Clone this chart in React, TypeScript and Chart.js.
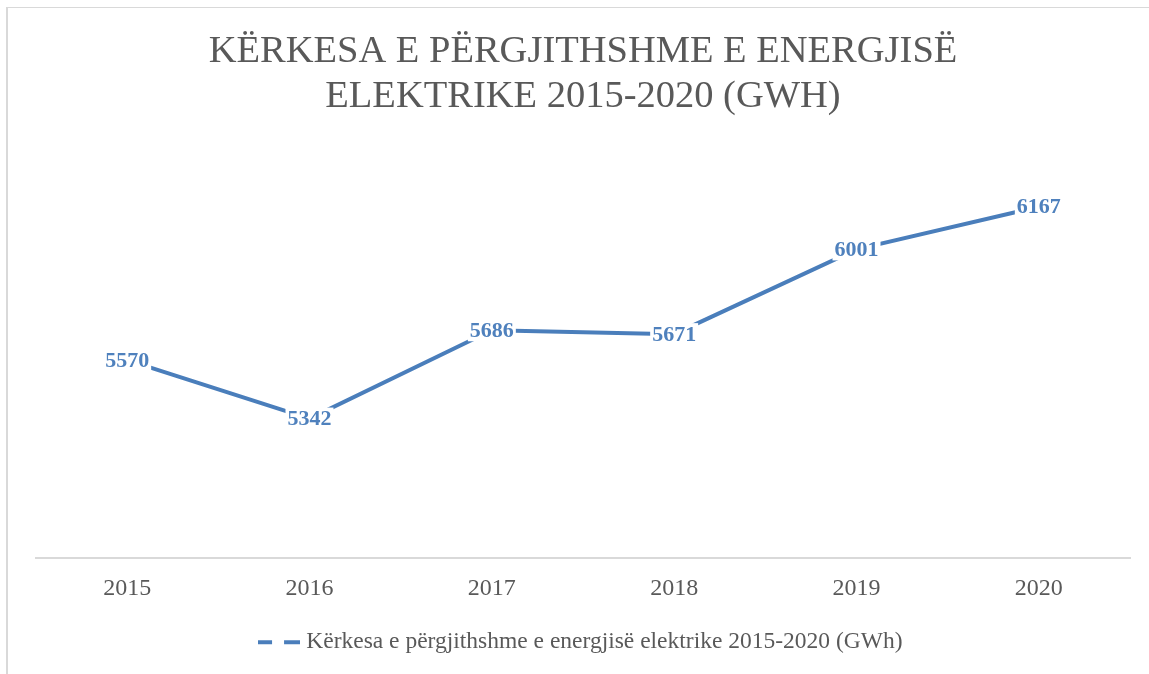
import React, { useEffect, useRef } from "react";
import { Chart, registerables } from "chart.js";

Chart.register(...registerables);

const years = ["2015", "2016", "2017", "2018", "2019", "2020"];
const demand = [5570, 5342, 5686, 5671, 6001, 6167];
const seriesLabel = "Kërkesa e përgjithshme e energjisë elektrike 2015-2020 (GWh)";
const titleLines = ["KËRKESA E PËRGJITHSHME E ENERGJISË", "ELEKTRIKE 2015-2020 (GWH)"];

const BLUE = "#4A7EBB";
const LABEL_BLUE = "#4F81BD";
const GRAY = "#595959";
const SERIF = "'Liberation Serif', 'DejaVu Serif', serif";

const dataLabelPlugin = {
  id: "dataLabels",
  afterDatasetsDraw(chart: any) {
    const ctx = chart.ctx;
    const meta = chart.getDatasetMeta(0);
    const ds = chart.data.datasets[0];
    ctx.save();
    ctx.font = `bold 22px ${SERIF}`;
    ctx.textAlign = "center";
    ctx.textBaseline = "middle";
    meta.data.forEach((pt: any, i: number) => {
      const txt = String(ds.data[i]);
      const w = ctx.measureText(txt).width;
      ctx.fillStyle = "#ffffff";
      ctx.fillRect(pt.x - w / 2 - 2, pt.y - 11, w + 4, 22);
      ctx.fillStyle = LABEL_BLUE;
      ctx.fillText(txt, pt.x, pt.y + 1);
    });
    ctx.restore();
  },
};

function makeLegendIcon(): HTMLCanvasElement {
  const c = document.createElement("canvas");
  c.width = 42;
  c.height = 6;
  const g = c.getContext("2d")!;
  g.fillStyle = BLUE;
  g.fillRect(0, 1, 14, 4);
  g.fillRect(26, 1, 16, 4);
  return c;
}

export default function App() {
  const ref = useRef<HTMLCanvasElement>(null);

  useEffect(() => {
    document.body.style.margin = "0";
    const icon = makeLegendIcon();
    const chart = new Chart(ref.current!, {
      type: "line",
      data: {
        labels: years,
        datasets: [
          {
            label: seriesLabel,
            data: demand,
            borderColor: BLUE,
            backgroundColor: BLUE,
            borderWidth: 4,
            pointRadius: 0,
            tension: 0,
          },
        ],
      },
      options: {
        animation: false,
        responsive: false,
        maintainAspectRatio: false,
        layout: { padding: { left: 36, right: 19, top: 0, bottom: 10 } },
        plugins: {
          title: {
            display: true,
            text: titleLines,
            color: GRAY,
            font: { family: SERIF, size: 38.5, weight: "normal", lineHeight: 45 / 38.5 },
            padding: { top: 29, bottom: 28 },
          },
          legend: {
            display: true,
            position: "bottom",
            labels: {
              color: GRAY,
              font: { family: SERIF, size: 23.5 },
              usePointStyle: true,
              pointStyleWidth: 31,
              padding: 10,
              generateLabels: () => [
                {
                  text: seriesLabel,
                  fillStyle: BLUE,
                  strokeStyle: BLUE,
                  pointStyle: icon,
                  fontColor: GRAY,
                  datasetIndex: 0,
                  hidden: false,
                  lineWidth: 0,
                } as any,
              ],
            },
          },
          tooltip: { enabled: false },
        },
        scales: {
          x: {
            offset: true,
            grid: { display: false, drawTicks: false },
            border: { display: true, color: "#D9D9D9", width: 2 },
            ticks: { color: GRAY, font: { family: SERIF, size: 24 }, padding: 17 },
          },
          y: {
            display: false,
            min: 4800,
            max: 6400,
          },
        },
      },
      plugins: [dataLabelPlugin],
    });
    return () => chart.destroy();
  }, []);

  return (
    <div style={{ position: "relative", width: 1149, height: 674, overflow: "hidden", background: "#fff" }}>
      <div style={{ position: "absolute", left: 6, top: 7, right: 0, height: 1, background: "#D9D9D9" }} />
      <div style={{ position: "absolute", left: 6, top: 7, bottom: 0, width: 2, background: "#D9D9D9" }} />
      <canvas ref={ref} width={1149} height={674} style={{ position: "absolute", left: 0, top: 0 }} />
    </div>
  );
}
